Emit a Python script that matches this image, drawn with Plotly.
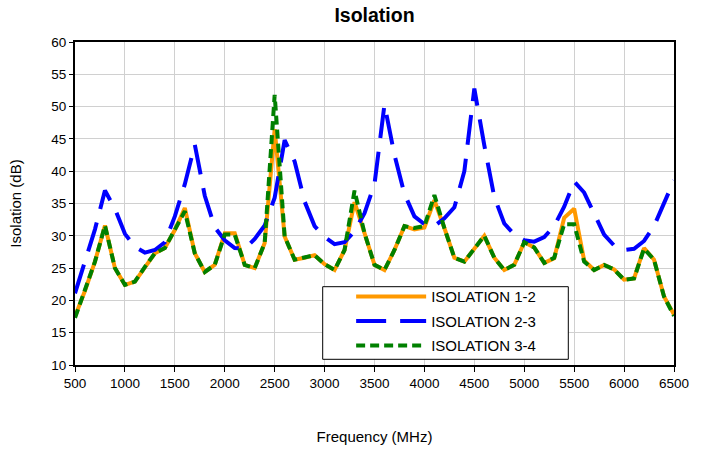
import plotly.graph_objects as go

freq = [500, 600, 700, 800, 900, 1000, 1100, 1200, 1300, 1400, 1500, 1600, 1700, 1800, 1900,
        2000, 2100, 2200, 2300, 2400, 2500, 2600, 2700, 2800, 2900, 3000, 3100, 3200, 3300, 3400,
        3500, 3600, 3700, 3800, 3900, 4000, 4100, 4200, 4300, 4400, 4500, 4600, 4700, 4800, 4900,
        5000, 5100, 5200, 5300, 5400, 5500, 5600, 5700, 5800, 5900, 6000, 6100, 6200, 6300, 6400,
        6500]

iso_12 = [17.5, 21.5, 26.0, 31.6, 25.0, 22.4, 22.9, 25.2, 27.3, 28.1, 30.9, 34.3, 27.3, 24.4, 25.5,
          30.4, 30.4, 25.5, 25.0, 28.9, 46.5, 29.9, 26.3, 26.6, 27.0, 25.6, 24.7, 27.8, 35.2, 30.4,
          25.5, 24.7, 27.8, 31.5, 31.0, 31.3, 35.5, 31.2, 26.6, 26.0, 28.1, 30.0, 26.6, 24.7, 25.5,
          29.0, 28.2, 25.8, 26.5, 32.8, 34.2, 26.2, 24.7, 25.5, 24.8, 23.2, 23.4, 28.1, 26.3, 20.6,
          17.8]

iso_23 = [21.1, 26.0, 31.0, 37.0, 34.2, 30.3, 28.3, 27.4, 27.8, 29.0, 33.0, 38.0, 44.1, 36.2, 31.3,
          29.3, 28.1, 28.0, 29.5, 31.6, 35.9, 44.8, 41.5, 35.3, 31.5, 29.8, 28.7, 29.0, 30.7, 33.5,
          38.0, 50.3, 42.5, 36.5, 33.0, 31.8, 31.5, 32.7, 34.4, 40.0, 52.8, 44.0, 36.0, 31.9, 30.2,
          29.3, 29.1, 29.8, 31.5, 34.5, 38.4, 36.7, 33.5, 30.2, 28.5, 27.8, 28.0, 29.2, 31.5, 35.0,
          38.6]

iso_34 = [17.3, 21.5, 26.0, 31.6, 25.0, 22.4, 22.9, 25.2, 27.3, 28.1, 30.9, 33.8, 27.3, 24.4, 25.5,
          30.2, 30.2, 25.5, 25.0, 28.9, 51.8, 29.9, 26.3, 26.6, 27.0, 25.6, 24.7, 27.8, 37.0, 30.4,
          25.5, 24.7, 27.8, 31.5, 31.2, 31.5, 36.3, 31.2, 26.6, 26.0, 28.1, 30.0, 26.6, 24.7, 25.5,
          29.0, 28.2, 25.8, 26.6, 31.8, 31.8, 26.0, 24.7, 25.5, 24.8, 23.2, 23.4, 28.0, 26.3, 20.6,
          17.6]

names = ["ISOLATION 1-2", "ISOLATION 2-3", "ISOLATION 3-4"]

FONT = "Arial, Liberation Sans, sans-serif"

fig = go.Figure()
fig.add_trace(go.Scatter(x=freq, y=iso_12, mode="lines", name=names[0], legendgroup="a",
                         line=dict(color="#FF9900", width=4)))
fig.add_trace(go.Scatter(x=freq, y=iso_23, mode="lines", name=names[1], legendgroup="b",
                         line=dict(color="#0000FF", width=4, dash="30px,14px")))
fig.add_trace(go.Scatter(x=freq, y=iso_34, mode="lines", name=names[2], legendgroup="c",
                         line=dict(color="#008000", width=4, dash="9px,5px")))

fig.update_layout(
    width=711, height=451,
    margin=dict(l=75, r=37, t=42, b=86),
    paper_bgcolor="white", plot_bgcolor="white",
    font=dict(family=FONT, size=13.5, color="black"),
    title=dict(text="<b>Isolation</b>", x=(75 + 674) / 2 / 711, xanchor="center",
               y=1 - 15 / 451, yanchor="middle", font=dict(size=19.5, family=FONT, color="black")),
    showlegend=True,
    legend=dict(x=0.461, y=0.262, xanchor="left", yanchor="top",
                bgcolor="rgba(0,0,0,0)", borderwidth=0,
                font=dict(size=15, family=FONT, color="black"),
                itemwidth=70, tracegroupgap=2),
    shapes=[dict(type="rect", xref="paper", yref="paper",
                 x0=(322.7 - 75) / 599, x1=(568.3 - 75) / 599,
                 y0=(365 - 359.3) / 323, y1=(365 - 286.7) / 323,
                 fillcolor="white", line=dict(color="black", width=1), layer="above")],
)

fig.update_xaxes(range=[500, 6500], dtick=500, tick0=500, automargin=False,
                 showgrid=True, gridcolor="#D0D0D0", gridwidth=1,
                 showline=True, linecolor="black", linewidth=2, mirror=True,
                 ticks="outside", ticklen=5, tickcolor="black", tickwidth=1,
                 zeroline=False,
                 title=dict(text="Frequency (MHz)", standoff=41, font=dict(size=15)))
fig.update_yaxes(range=[10, 60], dtick=5, tick0=10, automargin=False,
                 showgrid=True, gridcolor="#D0D0D0", gridwidth=1,
                 showline=True, linecolor="black", linewidth=2, mirror=True,
                 ticks="outside", ticklen=4, tickcolor="black", tickwidth=1,
                 zeroline=False,
                 title=dict(text="Isolation (dB)", standoff=26, font=dict(size=15)))

fig.write_html("out.html", config={"displayModeBar": False},
               post_script="document.body.style.margin='0';")
